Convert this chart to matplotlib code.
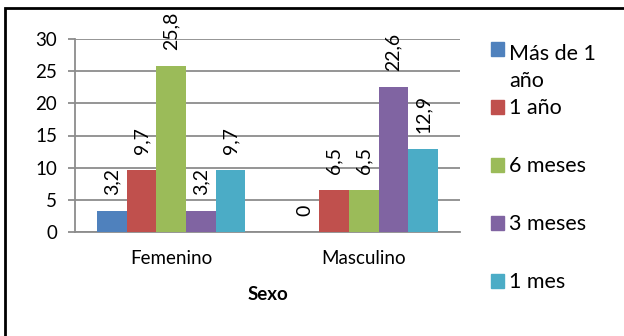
import textwrap
import matplotlib
matplotlib.use("Agg")
import matplotlib.pyplot as plt
from matplotlib.patches import Rectangle
import numpy as np

# Data
categories = ["Femenino", "Masculino"]
series_names = ["Más de 1 año", "1 año", "6 meses", "3 meses", "1 mes"]
mas_de_1_anio = [3.2, 0]
un_anio = [9.7, 6.5]
seis_meses = [25.8, 6.5]
tres_meses = [3.2, 22.6]
un_mes = [9.7, 12.9]
series_values = [mas_de_1_anio, un_anio, seis_meses, tres_meses, un_mes]
y_ticks = [0, 5, 10, 15, 20, 25, 30]
x_title = "Sexo"

colors = ["#4F81BD", "#C0504D", "#9BBB59", "#8064A2", "#4BACC6"]
grid_color = "#8C8C8C"

plt.rcParams["font.family"] = ["Lato", "DejaVu Sans"]

W, H = 624, 336
fig = plt.figure(figsize=(W / 100, H / 100), dpi=100)


def fx(px):
    return px / W


def fy(py):
    return 1 - py / H


ax = fig.add_axes([fx(75), fy(232), fx(460) - fx(75), fy(39) - fy(232)])

n = len(series_names)
bar_w = 0.77 / n
x = np.arange(len(categories))


def fmt(v):
    return "0" if v == 0 else f"{v:.1f}".replace(".", ",")


for i, (name, vals, col) in enumerate(zip(series_names, series_values, colors)):
    pos = x + (i - (n - 1) / 2) * bar_w
    ax.bar(pos, vals, width=bar_w, color=col, zorder=3, label=name)
    for px_, v in zip(pos, vals):
        ax.annotate(fmt(v), (px_, v), xytext=(0, 11.5), textcoords="offset points",
                    rotation=90, ha="center", va="bottom", fontsize=14,
                    color="black")

ax.set_xlim(-0.5, len(categories) - 0.5)
ax.set_ylim(0, 30)
ax.set_yticks(y_ticks)
ax.set_yticklabels([str(t) for t in y_ticks])
ax.set_xticks(x)
ax.set_xticklabels(categories)

ax.grid(axis="y", color=grid_color, linewidth=1.3, zorder=0)
for side in ["top", "right"]:
    ax.spines[side].set_visible(False)
for side in ["left", "bottom"]:
    ax.spines[side].set_color(grid_color)
    ax.spines[side].set_linewidth(1.3)

ax.tick_params(axis="y", direction="out", length=5, width=1.3, color=grid_color,
               labelsize=13.5, pad=8)
ax.tick_params(axis="x", length=0, labelsize=13.5, pad=13)

fig.text(fx(268), fy(295), x_title, ha="center", va="center",
         fontsize=13.5, fontweight="bold")

# Legend
entry_y0, entry_step = 49, 58
legend_fs = 15.5
line_h = legend_fs * 100 / 72 * 1.4
for i, (name, col) in enumerate(zip(series_names, colors)):
    cy = entry_y0 + i * entry_step
    fig.add_artist(Rectangle((fx(491), fy(cy + 7)), fx(13), 14 / H,
                             transform=fig.transFigure, color=col))
    label = textwrap.fill(name, 8)
    extra = label.count("\n") * line_h
    fig.text(fx(509), fy(cy + 7.5 + extra), label, ha="left",
             va="baseline", fontsize=legend_fs, linespacing=1.4)

# Outer frame
fig.add_artist(Rectangle((fx(5), -0.1), 1.2, fy(8) + 0.1, transform=fig.transFigure,
                         fill=False, edgecolor="black", linewidth=2))

fig.savefig("out.png", dpi=100)
